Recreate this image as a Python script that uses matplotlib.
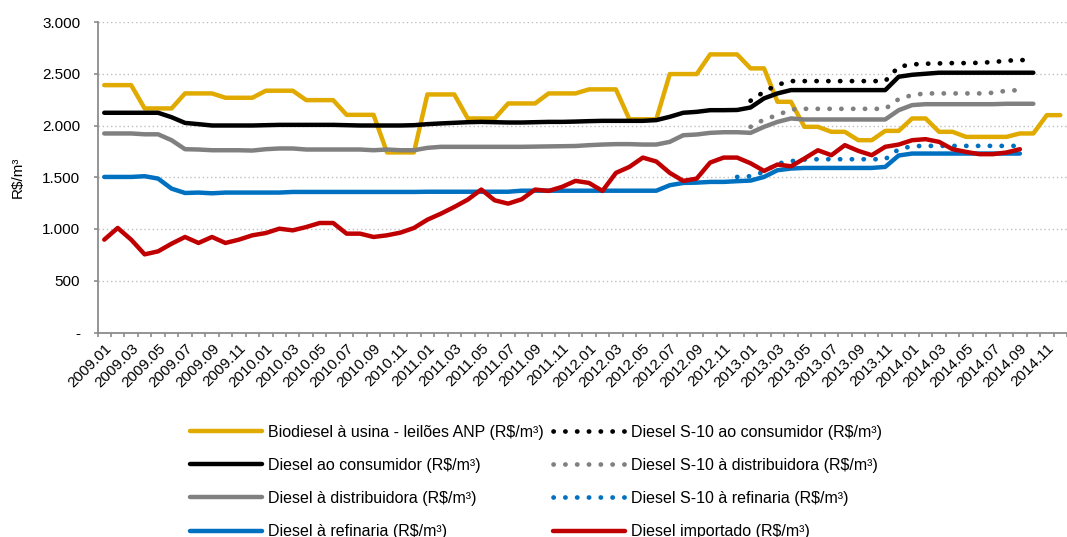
from __future__ import annotations
import numpy as np
import matplotlib
matplotlib.use("Agg")
import matplotlib.pyplot as plt
from matplotlib.ticker import FuncFormatter, MultipleLocator

# === DATA (R$/m³) ===
MONTHS = [f"{y}.{m:02d}" for y in range(2009, 2015) for m in range(1, 13)]

biodiesel = [2390, 2390, 2390, 2165, 2165, 2165, 2310, 2310, 2310, 2268, 2268, 2268,
             2336, 2336, 2336, 2245, 2245, 2245, 2103, 2103, 2103, 1740, 1740, 1740,
             2300, 2300, 2300, 2068, 2068, 2068, 2213, 2213, 2213, 2310, 2310, 2310,
             2349, 2349, 2349, 2060, 2060, 2060, 2497, 2497, 2497, 2687, 2687, 2687,
             2552, 2552, 2229, 2229, 1987, 1987, 1939, 1939, 1858, 1858, 1948, 1948,
             2068, 2068, 1939, 1939, 1890, 1890, 1890, 1890, 1923, 1923, 2100, 2100]

diesel_consumidor = [2123, 2123, 2123, 2123, 2123, 2080, 2025, 2013, 2000, 2000, 2000, 2000,
                     2003, 2006, 2006, 2006, 2006, 2006, 2003, 2000, 2000, 2000, 2000, 2003,
                     2013, 2020, 2026, 2032, 2035, 2032, 2029, 2029, 2032, 2035, 2035, 2038,
                     2042, 2045, 2045, 2045, 2045, 2052, 2084, 2123, 2132, 2148, 2148, 2150,
                     2174, 2262, 2310, 2342, 2342, 2342, 2342, 2342, 2342, 2342, 2342, 2471,
                     2490, 2500, 2510, 2510, 2510, 2510, 2510, 2510, 2510, 2510]

diesel_distribuidora = [1923, 1923, 1923, 1915, 1915, 1858, 1771, 1768, 1761, 1761, 1761, 1758,
                        1771, 1778, 1778, 1768, 1768, 1768, 1768, 1768, 1761, 1768, 1761, 1761,
                        1784, 1794, 1794, 1794, 1794, 1794, 1794, 1794, 1796, 1798, 1800, 1802,
                        1810, 1816, 1820, 1820, 1816, 1816, 1842, 1906, 1913, 1929, 1935, 1935,
                        1929, 1987, 2035, 2068, 2058, 2058, 2058, 2058, 2058, 2058, 2058, 2148,
                        2197, 2206, 2206, 2206, 2206, 2206, 2206, 2210, 2210, 2210]

diesel_refinaria = [1503, 1503, 1503, 1510, 1487, 1390, 1348, 1352, 1345, 1352, 1352, 1352,
                    1352, 1352, 1358, 1358, 1358, 1358, 1358, 1358, 1358, 1358, 1358, 1358,
                    1360, 1360, 1360, 1360, 1360, 1360, 1360, 1370, 1370, 1370, 1370, 1370,
                    1370, 1370, 1370, 1370, 1370, 1370, 1423, 1445, 1448, 1455, 1455, 1462,
                    1468, 1503, 1568, 1584, 1590, 1590, 1590, 1590, 1590, 1590, 1600, 1710,
                    1729, 1729, 1729, 1729, 1729, 1729, 1729, 1729, 1729]

diesel_importado = [897, 1010, 897, 755, 784, 858, 923, 865, 923, 865, 897, 939,
                    961, 1003, 987, 1019, 1058, 1058, 955, 955, 923, 939, 965, 1010,
                    1090, 1148, 1213, 1284, 1381, 1277, 1245, 1287, 1381, 1368, 1407, 1465,
                    1445, 1368, 1542, 1600, 1690, 1652, 1542, 1465, 1487, 1642, 1690, 1690,
                    1635, 1561, 1623, 1606, 1681, 1761, 1713, 1810, 1755, 1713, 1794, 1816,
                    1858, 1868, 1842, 1771, 1745, 1723, 1723, 1739, 1771]

# S-10 series only exist from end of 2012 on
s10_consumidor_start = "2013.01"
s10_consumidor = [2239, 2326, 2394, 2429, 2429, 2429, 2429, 2429, 2429, 2429, 2429, 2568,
                  2590, 2597, 2600, 2603, 2603, 2606, 2613, 2626, 2632, 2632]

s10_distribuidora_start = "2013.01"
s10_distribuidora = [1987, 2058, 2100, 2155, 2161, 2161, 2161, 2161, 2161, 2161, 2161, 2255,
                     2294, 2310, 2310, 2310, 2310, 2310, 2316, 2336, 2342]

s10_refinaria_start = "2012.12"
s10_refinaria = [1503, 1510, 1552, 1632, 1655, 1671, 1674, 1674, 1674, 1674, 1674, 1674,
                 1771, 1800, 1803, 1803, 1803, 1803, 1803, 1803, 1803, 1803]

LABELS = {
    "bio": "Biodiesel à usina - leilões ANP (R$/m³)",
    "cons": "Diesel ao consumidor (R$/m³)",
    "dist": "Diesel à distribuidora (R$/m³)",
    "ref": "Diesel à refinaria (R$/m³)",
    "s10cons": "Diesel S-10 ao consumidor (R$/m³)",
    "s10dist": "Diesel S-10 à distribuidora (R$/m³)",
    "s10ref": "Diesel S-10 à refinaria (R$/m³)",
    "imp": "Diesel importado (R$/m³)",
}

YELLOW, BLACK, GREY, BLUE, RED = "#E1AA00", "#000000", "#808080", "#0070C0", "#C00000"
AXIS_GREY = "#8C8C8C"


def _series(values, start=MONTHS[0]):
    """Place a series on the full month axis, NaN where there is no value."""
    out = np.full(len(MONTHS), np.nan)
    i0 = MONTHS.index(start)
    out[i0:i0 + len(values)] = values
    return out


def _ytick(v, _pos):
    if v == 0:
        return "-"
    return f"{int(v):,}".replace(",", ".")


def main():
    plt.rcParams["font.family"] = ["Liberation Sans", "DejaVu Sans"]
    plt.rcParams["font.size"] = 11

    fig = plt.figure(figsize=(10.67, 5.37), dpi=100)
    W, H = 1067, 537
    ax = fig.add_axes([97.5 / W, (H - 332.5) / H, (W - 97.5) / W, 310.5 / H])

    x = np.arange(len(MONTHS))
    solid = dict(lw=3.2, solid_capstyle="round", solid_joinstyle="round")
    dots = dict(lw=3.4, ls=(0, (0.05, 2.45)), dash_capstyle="round")

    h = {}
    h["bio"], = ax.plot(x, _series(biodiesel), color=YELLOW, **solid)
    h["cons"], = ax.plot(x, _series(diesel_consumidor), color=BLACK, **solid)
    h["dist"], = ax.plot(x, _series(diesel_distribuidora), color=GREY, **solid)
    h["ref"], = ax.plot(x, _series(diesel_refinaria), color=BLUE, **solid)
    h["s10cons"], = ax.plot(x, _series(s10_consumidor, s10_consumidor_start), color=BLACK, **dots)
    h["s10dist"], = ax.plot(x, _series(s10_distribuidora, s10_distribuidora_start), color=GREY, **dots)
    h["s10ref"], = ax.plot(x, _series(s10_refinaria, s10_refinaria_start), color=BLUE, **dots)
    h["imp"], = ax.plot(x, _series(diesel_importado), color=RED, **solid)

    # axes look
    ax.set_ylim(0, 3000)
    ax.set_xlim(-0.5, -0.5 + (W - 97.5) / 13.6)
    ax.yaxis.set_major_locator(MultipleLocator(500))
    ax.yaxis.set_major_formatter(FuncFormatter(_ytick))
    ax.yaxis.grid(True, ls=(0, (1, 2)), color="#BFBFBF", lw=1)
    ax.set_axisbelow(True)
    for s in ("top", "right"):
        ax.spines[s].set_visible(False)
    for s in ("left", "bottom"):
        ax.spines[s].set_color(AXIS_GREY)
        ax.spines[s].set_linewidth(1.3)
    ax.tick_params(axis="y", length=3, width=1.2, color=AXIS_GREY, pad=9.5, labelsize=11)

    ax.set_xticks(x[::2][:36])
    ax.set_xticklabels(MONTHS[::2][:36], rotation=45, ha="right", va="top",
                       rotation_mode="anchor", fontsize=11)
    ax.set_xticks(np.arange(len(MONTHS) + 1) - 0.5, minor=True)
    ax.tick_params(axis="x", which="major", length=0, pad=6)
    ax.tick_params(axis="x", which="minor", length=3, width=1.2, color=AXIS_GREY)

    ax.set_ylabel("R$/m³", fontsize=11)
    ax.yaxis.set_label_coords(-(97.5 - 25) / (W - 97.5), 0.5)

    order = ["bio", "cons", "dist", "ref", "s10cons", "s10dist", "s10ref", "imp"]
    fig.legend([h[k] for k in order], [LABELS[k] for k in order],
               ncol=2, loc="upper left", bbox_to_anchor=(190 / W, (H - 424.5) / H),
               frameon=False, borderpad=0, borderaxespad=0, fontsize=11.5,
               handlelength=4.5, handletextpad=0.36, columnspacing=0.6, labelspacing=1.14)

    fig.savefig("out.png", dpi=100)


if __name__ == "__main__":
    main()
